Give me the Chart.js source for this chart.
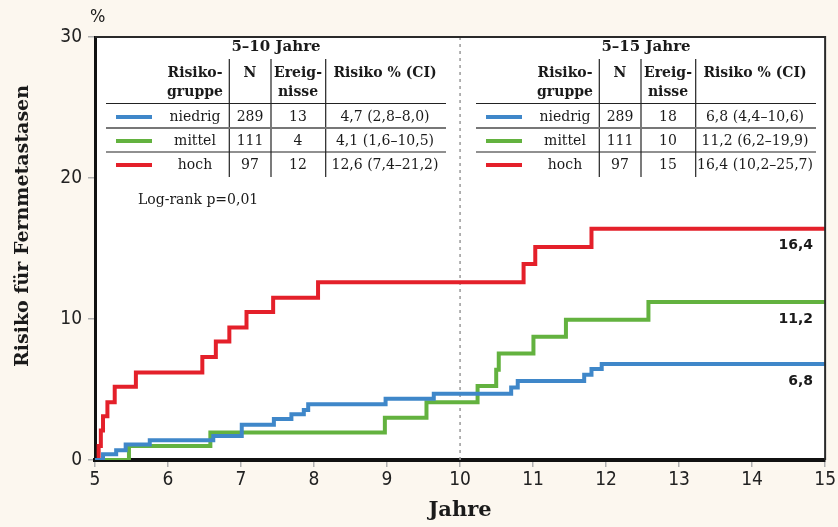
<!DOCTYPE html>
<html><head><meta charset="utf-8">
<script src="https://cdn.jsdelivr.net/npm/chart.js@4"></script>
<style>html,body{margin:0;padding:0;background:#fcf7ef;} #wrap{width:838px;height:527px;position:relative;}</style>
</head><body><div id="wrap"><canvas id="c"></canvas></div>
<script>
// ---- data ----
const redX   = [5, 5.05, 5.08, 5.11, 5.17, 5.27, 5.56, 6.47, 6.655, 6.84, 7.075, 7.44, 8.055, 10.87, 11.03, 11.80, 15];
const redY   = [0, 1.0, 2.1, 3.1, 4.1, 5.2, 6.2, 7.3, 8.4, 9.4, 10.5, 11.5, 12.6, 13.9, 15.1, 16.4, 16.4];
const greenX = [5, 5.465, 6.58, 8.97, 9.54, 10.24, 10.495, 10.53, 11.005, 11.45, 12.58, 15];
const greenY = [0, 1.0, 1.95, 3.0, 4.1, 5.25, 6.4, 7.55, 8.75, 9.95, 11.2, 11.2];
const blueX  = [5, 5.11, 5.29, 5.42, 5.75, 6.62, 7.01, 7.45, 7.69, 7.86, 7.92, 8.98, 9.64, 10.70, 10.79, 11.70, 11.80, 11.94, 15];
const blueY  = [0, 0.4, 0.7, 1.1, 1.4, 1.7, 2.5, 2.9, 3.25, 3.55, 3.95, 4.35, 4.7, 5.15, 5.6, 6.05, 6.45, 6.8, 6.8];
const xTicks = [5, 6, 7, 8, 9, 10, 11, 12, 13, 14, 15];
const yTicks = [0, 10, 20, 30];
const groups   = ['niedrig', 'mittel', 'hoch'];
const groupN   = ['289', '111', '97'];
const events10 = ['13', '4', '12'];
const risk10   = ['4,7 (2,8–8,0)', '4,1 (1,6–10,5)', '12,6 (7,4–21,2)'];
const events15 = ['18', '10', '15'];
const risk15   = ['6,8 (4,4–10,6)', '11,2 (6,2–19,9)', '16,4 (10,2–25,7)'];
const endValues = [6.8, 11.2, 16.4];
const endLabels = ['6,8', '11,2', '16,4'];
const groupColors = ['#3f87c9', '#63b23f', '#e4202a'];

const pts = (xs, ys) => xs.map((x, i) => ({x, y: ys[i]}));
const SERIF = "'DejaVu Serif', serif";
const SANS = "'Liberation Sans Narrow', 'DejaVu Sans Condensed', 'Noto Sans', sans-serif";

const deco = {
  id: 'deco',
  beforeDraw(chart) {
    const {ctx, chartArea: a} = chart;
    ctx.save();
    ctx.fillStyle = '#fcf7ef';
    ctx.fillRect(0, 0, chart.width, chart.height);
    ctx.fillStyle = '#ffffff';
    ctx.fillRect(a.left, a.top, a.right - a.left, a.bottom - a.top);
    ctx.restore();
  },
  beforeDatasetsDraw(chart) {
    const {ctx, chartArea: a, scales} = chart;
    const x10 = scales.x.getPixelForValue(10);
    ctx.save();
    ctx.strokeStyle = '#9a9a9a';
    ctx.lineWidth = 1.5;
    ctx.setLineDash([3, 4]);
    ctx.beginPath(); ctx.moveTo(x10, a.top); ctx.lineTo(x10, a.bottom); ctx.stroke();
    ctx.restore();
  },
  afterDraw(chart) {
    const {ctx, chartArea: a, scales} = chart;
    ctx.save();
    // top & right frame
    ctx.strokeStyle = '#2a2a2a';
    ctx.lineWidth = 2;
    ctx.beginPath(); ctx.moveTo(a.left, a.top); ctx.lineTo(a.right, a.top); ctx.lineTo(a.right, a.bottom); ctx.stroke();

    ctx.fillStyle = '#1a1a1a';
    ctx.textBaseline = 'middle';
    // axis titles
    ctx.font = "bold 21px " + SERIF;
    ctx.textAlign = 'center';
    ctx.fillText('Jahre', 460, 511);
    ctx.save();
    ctx.translate(23, 226);
    ctx.rotate(-Math.PI / 2);
    ctx.font = "bold 19px " + SERIF;
    ctx.fillText('Risiko für Fernmetastasen', 0, 0);
    ctx.restore();
    ctx.font = "18px " + SANS;
    ctx.textAlign = 'left';
    ctx.fillText('%', 90, 17);

    // end labels
    ctx.font = "bold 14px 'DejaVu Sans', sans-serif";
    ctx.textAlign = 'right';
    endValues.forEach((v, i) => {
      ctx.fillText(endLabels[i], 813, scales.y.getPixelForValue(v) + 17);
    });

    // tables
    const drawTable = (ox, title, ev, risk) => {
      const cx = [ox + 105, ox + 160, ox + 208, ox + 295];
      ctx.textAlign = 'center';
      ctx.font = "bold 15px " + SERIF;
      ctx.fillText(title, ox + 186, 47);
      ctx.font = "bold 14px " + SERIF;
      ctx.fillText('Risiko-', cx[0], 73);
      ctx.fillText('gruppe', cx[0], 92);
      ctx.fillText('N', cx[1], 73);
      ctx.fillText('Ereig-', cx[2], 73);
      ctx.fillText('nisse', cx[2], 92);
      ctx.fillText('Risiko % (CI)', cx[3], 73);
      ctx.font = "14px " + SERIF;
      const rowsY = [117, 141, 165];
      groups.forEach((g, i) => {
        ctx.fillText(g, cx[0], rowsY[i]);
        ctx.fillText(groupN[i], cx[1], rowsY[i]);
        ctx.fillText(ev[i], cx[2], rowsY[i]);
        ctx.fillText(risk[i], cx[3], rowsY[i]);
        ctx.strokeStyle = groupColors[i];
        ctx.lineWidth = 4;
        ctx.beginPath(); ctx.moveTo(ox + 26, rowsY[i]); ctx.lineTo(ox + 62, rowsY[i]); ctx.stroke();
      });
      // lines
      ctx.strokeStyle = '#222';
      ctx.lineWidth = 1.2;
      [139.3, 181, 235.7].forEach(vx => {
        ctx.beginPath(); ctx.moveTo(ox + vx, 59); ctx.lineTo(ox + vx, 177); ctx.stroke();
      });
      ctx.beginPath(); ctx.moveTo(ox + 16, 103.5); ctx.lineTo(ox + 356, 103.5); ctx.stroke();
      ctx.beginPath(); ctx.moveTo(ox + 16, 152); ctx.lineTo(ox + 356, 152); ctx.stroke();
      ctx.strokeStyle = '#777';
      ctx.lineWidth = 2;
      ctx.beginPath(); ctx.moveTo(ox + 16, 128); ctx.lineTo(ox + 356, 128); ctx.stroke();
    };
    drawTable(90, '5–10 Jahre', events10, risk10);
    drawTable(460, '5–15 Jahre', events15, risk15);

    ctx.textAlign = 'left';
    ctx.font = "14px " + SERIF;
    ctx.fillText('Log-rank p=0,01', 138, 200);
    ctx.restore();
  }
};

const ds = (label, xs, ys, color) => ({
  label, data: pts(xs, ys), borderColor: color, backgroundColor: color,
  borderWidth: 4, pointRadius: 0, stepped: 'before', fill: false, tension: 0
});

new Chart(document.getElementById('c'), {
  type: 'line',
  data: {
    datasets: [
      ds('niedrig', blueX, blueY, groupColors[0]),
      ds('mittel', greenX, greenY, groupColors[1]),
      ds('hoch', redX, redY, groupColors[2])
    ]
  },
  options: {
    responsive: true, maintainAspectRatio: false, animation: false,
    devicePixelRatio: 1,
    layout: {padding: {left: 0, right: 12, top: 37, bottom: 0}},
    plugins: {legend: {display: false}, tooltip: {enabled: false}},
    scales: {
      x: {
        type: 'linear', min: 5, max: 15,
        afterBuildTicks: s => { s.ticks = xTicks.map(v => ({value: v})); },
        afterFit: s => { s.height = 67; },
        ticks: {color: '#222', font: {size: 19, family: SANS}, padding: 2, maxRotation: 0, autoSkip: false},
        grid: {drawOnChartArea: false, drawTicks: true, tickLength: 7, color: '#b0b0b0', lineWidth: 1.5},
        border: {display: true, color: '#111', width: 4}
      },
      y: {
        min: 0, max: 30,
        afterBuildTicks: s => { s.ticks = yTicks.map(v => ({value: v})); },
        afterFit: s => { s.width = 95; },
        ticks: {color: '#222', font: {size: 19, family: SANS}, padding: 6},
        grid: {drawOnChartArea: false, drawTicks: true, tickLength: 7, color: '#b0b0b0', lineWidth: 1.5},
        border: {display: true, color: '#111', width: 3}
      }
    }
  },
  plugins: [deco]
});
</script></body></html>
